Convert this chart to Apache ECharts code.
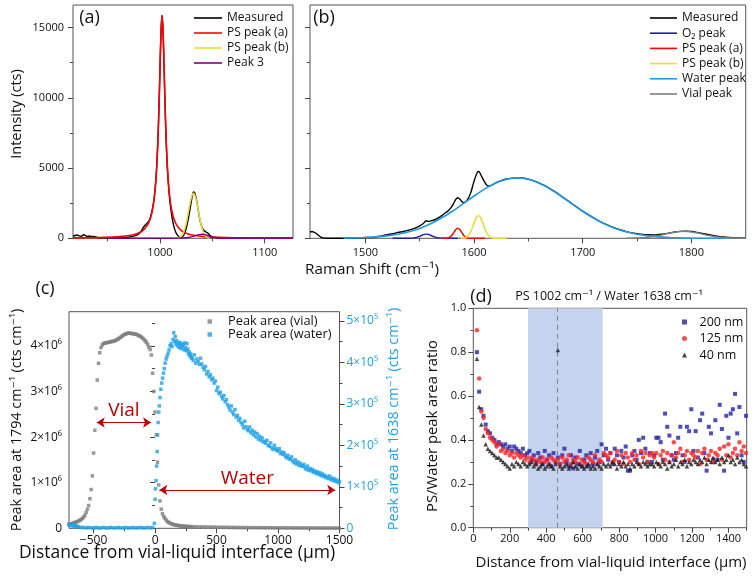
<!DOCTYPE html>
<html><head><meta charset="utf-8">
<script src="https://cdn.jsdelivr.net/npm/echarts@6/dist/echarts.min.js"></script>
<style>html,body{margin:0;padding:0;background:#fff}#c{width:756px;height:577px}</style>
</head><body><div id="c"></div>
<script>
// ---------- Panel (a): Raman spectrum 917–1127 cm-1 ----------
const aMeasured = [[917,150],[919,200],[921,230],[923,170],[925,140],[927,250],[929,200],[931,130],[933,160],[935,110],[937,140],[940,60],[945,40],[950,20],[955,30],[960,40],[965,45],[970,80],[975,150],[978,230],[981,400],[984,750],[986,950],[988,1100],[990,1300],[992,1800],[994,2600],[995,3200],[996,4050],[997,5250],[998,6900],[999,9150],[1000,11950],[1001,14650],[1002,15850],[1003,14650],[1004,11950],[1005,9100],[1006,6800],[1007,5100],[1008,3900],[1009,3000],[1010,2300],[1012,1300],[1014,650],[1016,300],[1018,130],[1020,60],[1022,150],[1024,450],[1026,1000],[1028,1750],[1029,2200],[1030,2650],[1031,3050],[1032,3300],[1033,3250],[1034,3050],[1035,2700],[1036,2250],[1037,1800],[1038,1350],[1040,800],[1042,550],[1044,450],[1046,350],[1048,200],[1050,100],[1054,40],[1060,20],[1070,10],[1080,10],[1090,5],[1100,5],[1110,0],[1127,0]];
const aPsPeakA = [[917,27],[932,40],[947,64],[962,120],[972,213],[977,305],[982,471],[985,645],[988,933],[990,1243],[992,1730],[994,2547],[995,3171],[996,4025],[997,5214],[998,6875],[999,9140],[1000,11953],[1001,14659],[1002,15855],[1003,14659],[1004,11953],[1005,9140],[1006,6875],[1007,5214],[1008,4025],[1009,3171],[1010,2547],[1012,1730],[1014,1243],[1016,933],[1019,645],[1022,471],[1027,305],[1032,213],[1042,120],[1057,64],[1072,40],[1087,27],[1127,12]];
const aPsPeakB = [[1017,20],[1020,120],[1022,330],[1024,747],[1026,1411],[1028,2225],[1030,2920],[1032,3200],[1034,2920],[1036,2225],[1038,1411],[1040,747],[1042,330],[1044,120],[1047,20]];
const aPeak3 = [[950,0],[1000,2],[1015,10],[1022,25],[1027,60],[1031,120],[1034,190],[1037,260],[1040,290],[1043,260],[1046,190],[1049,110],[1052,50],[1056,15],[1062,3],[1080,0],[1127,0]];

// ---------- Panel (b): Raman spectrum 1449–1850 cm-1 ----------
const bMeasured = [[1449,450],[1451,480],[1453,420],[1455,330],[1457,200],[1459,90],[1461,30],[1465,0],[1475,5],[1485,10],[1495,30],[1500,60],[1505,45],[1510,110],[1515,170],[1520,260],[1525,320],[1530,420],[1535,480],[1540,580],[1545,700],[1550,880],[1553,1030],[1556,1250],[1558,1200],[1561,1260],[1564,1320],[1567,1450],[1570,1600],[1573,1780],[1576,1950],[1579,2200],[1581,2450],[1583,2750],[1585,2880],[1587,2780],[1589,2600],[1591,2550],[1593,2650],[1595,2900],[1597,3250],[1599,3800],[1601,4300],[1603,4700],[1604,4760],[1605,4700],[1607,4400],[1609,4100],[1611,3850],[1613,3720],[1616,3760],[1620,3950],[1625,4100],[1630,4220],[1635,4270],[1640,4300],[1645,4290],[1650,4210],[1655,4080],[1660,3930],[1665,3740],[1670,3520],[1675,3280],[1680,3010],[1685,2740],[1690,2470],[1695,2200],[1700,1930],[1705,1680],[1710,1450],[1715,1230],[1720,1040],[1725,870],[1730,720],[1735,590],[1740,480],[1745,390],[1750,330],[1755,280],[1760,250],[1765,240],[1770,270],[1775,310],[1780,390],[1785,450],[1790,490],[1795,510],[1800,480],[1805,420],[1810,350],[1815,270],[1820,200],[1825,140],[1830,90],[1835,60],[1840,35],[1845,20],[1850,15]];
const bO2Peak = [[1525,0],[1540,2],[1543,10],[1546,41],[1548,83],[1550,146],[1552,218],[1554,277],[1556,300],[1558,277],[1560,218],[1562,146],[1564,83],[1566,41],[1569,10],[1572,2],[1585,0]];
const bPsPeakA = [[1570,0],[1575,12],[1577,52],[1579,163],[1581,370],[1583,603],[1585,710],[1587,603],[1589,370],[1591,163],[1593,52],[1595,12],[1600,0],[1610,0]];
const bPsPeakB = [[1588,0],[1592,47],[1594,138],[1596,334],[1598,666],[1600,1092],[1602,1467],[1604,1620],[1606,1467],[1608,1092],[1610,666],[1612,334],[1614,138],[1616,47],[1620,6],[1630,0]];
const bWaterPeak = [[1480,14],[1490,28],[1500,54],[1510,99],[1520,173],[1530,289],[1540,461],[1550,705],[1560,1031],[1570,1442],[1580,1926],[1590,2461],[1600,3009],[1610,3518],[1620,3933],[1630,4205],[1640,4300],[1650,4205],[1660,3933],[1670,3518],[1680,3009],[1690,2461],[1700,1926],[1710,1442],[1720,1031],[1730,705],[1740,461],[1750,289],[1760,173],[1770,99],[1780,54],[1790,28],[1800,14],[1820,3],[1850,0]];
const bVialPeak = [[1740,4],[1750,20],[1760,76],[1770,200],[1780,373],[1786,460],[1793,500],[1800,460],[1806,373],[1816,200],[1826,76],[1836,20],[1850,4]];

// ---------- Panel (c): peak areas vs distance (vial in 10^6, water in 10^5) ----------
const cVialArea = [[-700,0.09],[-690,0.10],[-680,0.10],[-670,0.11],[-660,0.12],[-650,0.13],[-640,0.14],[-630,0.15],[-620,0.16],[-610,0.18],[-600,0.20],[-590,0.22],[-580,0.25],[-570,0.29],[-560,0.35],[-550,0.42],[-540,0.50],[-530,0.65],[-520,0.85],[-510,1.15],[-500,1.65],[-490,2.15],[-480,2.63],[-470,3.25],[-460,3.62],[-450,3.85],[-440,3.96],[-430,4.02],[-420,4.05],[-410,4.06],[-400,4.07],[-390,4.07],[-380,4.08],[-370,4.08],[-360,4.09],[-350,4.10],[-340,4.10],[-330,4.11],[-320,4.12],[-310,4.14],[-300,4.15],[-290,4.17],[-280,4.19],[-270,4.21],[-260,4.23],[-250,4.25],[-240,4.26],[-230,4.27],[-220,4.28],[-210,4.28],[-200,4.28],[-190,4.27],[-180,4.27],[-170,4.26],[-160,4.26],[-150,4.25],[-140,4.24],[-130,4.22],[-120,4.21],[-110,4.19],[-100,4.17],[-90,4.14],[-80,4.11],[-70,4.08],[-60,4.03],[-50,3.97],[-40,3.92],[-30,3.80],[-20,3.40],[-10,3.00],[0,2.55],[10,2.05],[20,1.45],[30,0.95],[40,0.60],[50,0.42],[60,0.32],[70,0.26],[80,0.22],[90,0.18],[100,0.15],[110,0.13],[120,0.12],[130,0.10],[140,0.09],[150,0.08],[160,0.075],[170,0.07],[180,0.065],[190,0.06],[200,0.055],[210,0.052],[220,0.049],[230,0.046],[240,0.044],[250,0.042],[260,0.04],[270,0.039],[280,0.037],[290,0.036],[300,0.035],[320,0.033],[340,0.032],[360,0.030],[380,0.029],[400,0.028],[420,0.027],[440,0.026],[460,0.025],[480,0.024],[500,0.023],[520,0.022],[540,0.021],[560,0.021],[580,0.020],[600,0.019],[620,0.019],[640,0.018],[660,0.017],[680,0.017],[700,0.016],[720,0.016],[740,0.015],[760,0.015],[780,0.014],[800,0.014],[820,0.013],[840,0.013],[860,0.013],[880,0.012],[900,0.012],[920,0.012],[940,0.011],[960,0.011],[980,0.011],[1000,0.010],[1020,0.010],[1040,0.010],[1060,0.009],[1080,0.009],[1100,0.009],[1120,0.009],[1140,0.008],[1160,0.008],[1180,0.008],[1200,0.008],[1220,0.007],[1240,0.007],[1260,0.007],[1280,0.007],[1300,0.007],[1320,0.006],[1340,0.006],[1360,0.006],[1380,0.006],[1400,0.006],[1420,0.005],[1440,0.005],[1460,0.005],[1480,0.005],[1500,0.005]];
const cWaterArea = [[-700,0.08],[-690,0.10],[-680,0.06],[-670,0.09],[-660,0.05],[-650,0.07],[-640,0.04],[-630,0.05],[-620,0.03],[-600,0.02],[-580,0.02],[-560,0.01],[-540,0.02],[-520,0.01],[-500,0.01],[-480,0.02],[-460,0.01],[-440,0.01],[-420,0.02],[-400,0.01],[-380,0.01],[-360,0.02],[-340,0.01],[-320,0.01],[-300,0.02],[-280,0.01],[-260,0.01],[-240,0.02],[-220,0.01],[-200,0.01],[-180,0.02],[-160,0.01],[-140,0.01],[-120,0.02],[-100,0.01],[-80,0.01],[-60,0.02],[-40,0.01],[-20,0.02],[-6,0.12],
[0,0.70],[3,0.95],[8,1.15],[13,1.50],[17,1.85],[21,2.25],[25,2.55],[30,2.80],[35,2.95],[40,3.15],[47,3.35],[54,3.50],[61,3.62],[68,3.74],[75,3.85],[82,3.98],[90,4.08],[98,4.15],[106,4.22],[114,4.30],[122,4.40],[130,4.45],[138,4.38],[146,4.55],[152,4.71],[158,4.50],[164,4.62],[170,4.44],[176,4.52],[182,4.40],[188,4.47],[194,4.36],[200,4.48],[206,4.40],[212,4.33],[218,4.45],[224,4.38],[230,4.42],[236,4.30],[242,4.47],[248,4.35],[254,4.28],[260,4.45],[266,4.32],[272,4.20],[278,4.25],[284,4.15],[290,4.20],[296,4.10],
[300,4.12],[310,4.05],[320,4.18],[330,3.98],[340,4.08],[350,4.02],[360,3.95],[370,4.10],[380,3.96],[390,3.88],
[400,3.82],[410,3.90],[420,3.72],[430,3.78],[440,3.65],[450,3.70],[460,3.58],[470,3.62],[480,3.50],[490,3.55],
[500,3.32],[510,3.40],[520,3.25],[530,3.28],[540,3.18],[550,3.12],[560,3.20],[570,3.05],[580,3.10],[590,2.98],
[600,2.92],[610,2.85],[620,2.95],[630,2.80],[640,2.74],[650,2.86],[660,2.68],[670,2.72],[680,2.60],[690,2.65],
[700,2.55],[710,2.50],[720,2.42],[730,2.58],[740,2.45],[750,2.38],[760,2.35],[770,2.44],[780,2.30],[790,2.36],
[800,2.25],[810,2.32],[820,2.20],[830,2.28],[840,2.15],[850,2.22],[860,2.12],[870,2.18],[880,2.08],[890,2.10],
[900,2.05],[910,2.12],[920,2.00],[930,1.98],[940,2.06],[950,1.94],[960,1.90],[970,2.00],[980,1.92],[990,1.88],
[1000,1.86],[1010,1.92],[1020,1.80],[1030,1.84],[1040,1.78],[1050,1.82],[1060,1.74],[1070,1.70],[1080,1.76],[1090,1.68],
[1100,1.66],[1110,1.72],[1120,1.62],[1130,1.58],[1140,1.65],[1150,1.55],[1160,1.60],[1170,1.52],[1180,1.57],[1190,1.50],
[1200,1.50],[1210,1.54],[1220,1.46],[1230,1.42],[1240,1.50],[1250,1.40],[1260,1.44],[1270,1.38],[1280,1.42],[1290,1.35],
[1300,1.38],[1310,1.32],[1320,1.36],[1330,1.30],[1340,1.34],[1350,1.27],[1360,1.31],[1370,1.25],[1380,1.28],[1390,1.22],
[1400,1.24],[1410,1.20],[1420,1.26],[1430,1.17],[1440,1.21],[1450,1.15],[1460,1.19],[1470,1.13],[1480,1.16],[1490,1.10],[1500,1.12]];
const cVialArrow = [[-474,2.32],[-33,2.32]];
const cWaterArrow = [[35,0.84],[1465,0.84]];

// ---------- Panel (d): PS/Water peak area ratio ----------
const dDistance = [20,32,44,56,68,80,92,104,116,128,140,152,164,176,188,200,212,224,236,248,260,272,284,296,308,320,332,344,356,368,380,392,404,416,428,440,452,464,476,488,500,512,524,536,548,560,572,584,596,608,620,632,644,656,668,680,692,704,716,728,740,752,764,776,788,800,812,824,836,848,860,872,884,896,908,920,932,944,956,968,980,992,1004,1016,1028,1040,1052,1064,1076,1088,1100,1112,1124,1136,1148,1160,1172,1184,1196,1208,1220,1232,1244,1256,1268,1280,1292,1304,1316,1328,1340,1352,1364,1376,1388,1400,1412,1424,1436,1448,1460,1472,1484,1496];
const dRatio200 = [0.80,0.62,0.54,0.51,0.47,0.44,0.43,0.41,0.40,0.38, 0.39,0.38,0.37,0.38,0.36,0.37,0.35,0.37,0.36,0.35, 0.34,0.36,0.33,0.34,0.35,0.31,0.33,0.30,0.34,0.32, 0.29,0.35,0.31,0.33,0.28,0.34,0.30,0.32,0.29,0.33, 0.36,0.30,0.28,0.33,0.27,0.32,0.29,0.35,0.28,0.31, 0.33,0.28,0.34,0.29,0.32,0.35,0.30,0.38,0.33,0.36, 0.31,0.34,0.29,0.36,0.33,0.30,0.35,0.32,0.37,0.26, 0.26,0.33,0.35,0.31,0.40,0.34,0.41,0.36,0.30,0.34, 0.30,0.33,0.41,0.41,0.39,0.31,0.52,0.46,0.42,0.33, 0.31,0.34,0.41,0.46,0.33,0.30,0.46,0.44,0.54,0.35, 0.44,0.32,0.49,0.52,0.34,0.26,0.46,0.43,0.31,0.49, 0.31,0.56,0.45,0.26,0.51,0.41,0.52,0.54,0.61,0.43, 0.55,0.33,0.30,0.51];
const dRatio125 = [0.90,0.68,0.53,0.50,0.45,0.43,0.41,0.40,0.39,0.37, 0.38,0.35,0.36,0.34,0.35,0.33,0.34,0.32,0.34,0.33, 0.32,0.33,0.31,0.32,0.30,0.32,0.31,0.29,0.31,0.30, 0.32,0.30,0.31,0.29,0.32,0.31,0.30,0.31,0.29,0.32, 0.30,0.31,0.33,0.29,0.31,0.30,0.32,0.29,0.31,0.30, 0.29,0.32,0.31,0.30,0.33,0.29,0.31,0.30,0.34,0.33, 0.32,0.34,0.30,0.31,0.35,0.30,0.33,0.29,0.34,0.32, 0.30,0.34,0.31,0.33,0.29,0.35,0.32,0.34,0.30,0.33, 0.34,0.32,0.34,0.29,0.33,0.35,0.31,0.34,0.30,0.33, 0.39,0.32,0.34,0.36,0.30,0.33,0.35,0.31,0.34,0.33, 0.32,0.35,0.29,0.34,0.36,0.31,0.33,0.35,0.30,0.34, 0.33,0.36,0.31,0.37,0.33,0.38,0.32,0.34,0.36,0.33, 0.39,0.35,0.37,0.34];
const dRatio40 = [0.77,0.55,0.47,0.42,0.38,0.36,0.35,0.34,0.33,0.32, 0.32,0.31,0.30,0.29,0.28,0.27,0.29,0.28,0.30,0.29, 0.28,0.30,0.29,0.28,0.29,0.30,0.28,0.29,0.27,0.28, 0.29,0.27,0.28,0.29,0.28,0.27,0.29,0.81,0.28,0.27, 0.28,0.29,0.27,0.28,0.30,0.28,0.27,0.29,0.28,0.27, 0.28,0.29,0.27,0.28,0.27,0.29,0.28,0.27,0.29,0.28, 0.29,0.28,0.30,0.29,0.27,0.29,0.28,0.30,0.28,0.29, 0.27,0.29,0.28,0.30,0.29,0.28,0.30,0.29,0.28,0.29, 0.29,0.28,0.30,0.29,0.28,0.30,0.29,0.27,0.30,0.28, 0.29,0.31,0.28,0.30,0.29,0.31,0.28,0.30,0.29,0.31, 0.30,0.29,0.31,0.30,0.32,0.29,0.31,0.30,0.32,0.30, 0.31,0.29,0.32,0.30,0.31,0.33,0.30,0.31,0.29,0.32, 0.30,0.31,0.29,0.28];
const dShadeRange = [300, 710];
const dDashedAt = 460;

// ---------- Tick values ----------
const aXTicks = [1000, 1100], aXMinor = [950, 1050];
const abYTicks = [0, 5000, 10000, 15000], abYMinor = [2500, 7500, 12500];
const bXTicks = [1500, 1600, 1700, 1800], bXMinor = [1550, 1650, 1750];
const cXTicks = [-500, 0, 500, 1000, 1500], cXMinor = [-250, 250, 750, 1250];
const cLeftTicks = [0, 1, 2, 3, 4], cLeftMinor = [0.5, 1.5, 2.5, 3.5, 4.5];
const cRightTicks = [0, 1, 2, 3, 4, 5], cRightMinor = [0.5, 1.5, 2.5, 3.5, 4.5];
const dXTicks = [0, 200, 400, 600, 800, 1000, 1200, 1400], dXMinor = [100, 300, 500, 700, 900, 1100, 1300, 1500];
const dYTicks = [0, 0.2, 0.4, 0.6, 0.8, 1.0], dYMinor = [0.1, 0.3, 0.5, 0.7, 0.9];

// ---------- Rendering ----------
const FONT = "'Open Sans', 'DejaVu Sans', sans-serif";
const AX = '#444';
const BLUE = '#1DA1E8';
const dPairs = vals => dDistance.map((x, i) => [x, vals[i]]);

function axis(o) {
  return {
    type: 'value', gridIndex: o.grid, min: o.min, max: o.max, position: o.pos,
    axisLine: { show: false }, splitLine: { show: false },
    axisTick: { show: true, customValues: o.ticks, length: o.len || 5, lineStyle: { color: AX, width: 1 } },
    axisLabel: o.labels ? { show: true, customValues: o.ticks, margin: o.margin, fontSize: o.fs || 11,
      color: o.color || '#111', fontFamily: FONT, formatter: o.fmt || (v => String(v)) } : { show: false }
  };
}
const minus = v => v < 0 ? '\u2212' + Math.abs(v) : String(v);

const xAxis = [
  axis({grid:0, min:917, max:1127, pos:'bottom', ticks:aXTicks, labels:true, margin:9}),
  axis({grid:0, min:917, max:1127, pos:'bottom', ticks:aXMinor, len:3}),
  axis({grid:1, min:1449, max:1850, pos:'bottom', ticks:bXTicks, labels:true, margin:9}),
  axis({grid:1, min:1449, max:1850, pos:'bottom', ticks:bXMinor, len:3}),
  axis({grid:2, min:-700, max:1500, pos:'bottom', ticks:cXTicks, labels:true, margin:6, fs:12, fmt:minus}),
  axis({grid:2, min:-700, max:1500, pos:'bottom', ticks:cXMinor, len:3}),
  axis({grid:3, min:0, max:1500, pos:'bottom', ticks:dXTicks, labels:true, margin:6}),
  axis({grid:3, min:0, max:1500, pos:'bottom', ticks:dXMinor, len:3})
];
const yAxis = [
  axis({grid:0, min:0, max:16600, pos:'left', ticks:abYTicks, labels:true, margin:9}),
  axis({grid:0, min:0, max:16600, pos:'left', ticks:abYMinor, len:3}),
  axis({grid:1, min:0, max:16600, pos:'left', ticks:abYTicks}),
  axis({grid:1, min:0, max:16600, pos:'left', ticks:abYMinor, len:3}),
  axis({grid:2, min:0, max:4.75, pos:'left', ticks:cLeftTicks, labels:true, margin:7, fs:12, fmt: v => v === 0 ? '0' : v + '×10⁶'}),
  axis({grid:2, min:0, max:4.75, pos:'left', ticks:cLeftMinor, len:3}),
  axis({grid:2, min:0, max:5.22, pos:'right', ticks:cRightTicks, labels:true, margin:7, fs:12, color:BLUE, fmt: v => v === 0 ? '0' : v + '×10⁵'}),
  axis({grid:2, min:0, max:5.22, pos:'right', ticks:cRightMinor, len:3}),
  axis({grid:3, min:0, max:1, pos:'left', ticks:dYTicks, labels:true, margin:7, fmt: v => v.toFixed(1)}),
  axis({grid:3, min:0, max:1, pos:'left', ticks:dYMinor, len:3})
];

function line(name, data, color, xi, yi, w, z) {
  return { name, type:'line', data, xAxisIndex:xi, yAxisIndex:yi, symbol:'none', smooth:0.25,
    lineStyle:{ color, width: w || 1.4 }, itemStyle:{ color }, z: z || 2, silent:true };
}
function scat(name, data, color, symbol, size, xi, yi, z) {
  return { name, type:'scatter', data, xAxisIndex:xi, yAxisIndex:yi, symbol, symbolSize:size,
    itemStyle:{ color }, z: z || 3, silent:true };
}

const series = [
  line('Measured', aMeasured, '#000000', 0, 0, 1.4),
  line('PS peak (a)', aPsPeakA, '#FF0000', 0, 0, 1.6),
  line('PS peak (b)', aPsPeakB, '#E8DC3A', 0, 0, 1.6),
  line('Peak 3', aPeak3, '#800080', 0, 0, 1.4),
  line('Measured', bMeasured, '#000000', 2, 2, 1.4),
  line('O₂ peak', bO2Peak, '#1F1FA0', 2, 2, 1.4),
  line('PS peak (a)', bPsPeakA, '#FF0000', 2, 2, 1.4),
  line('PS peak (b)', bPsPeakB, '#E8DC3A', 2, 2, 1.6),
  line('Water peak', bWaterPeak, '#1E9BE6', 2, 2, 1.6),
  line('Vial peak', bVialPeak, '#7F7F7F', 2, 2, 1.4),
  Object.assign(scat('Peak area (vial)', cVialArea, '#7F7F7F', 'rect', 3.5, 4, 4), {
    markLine: { silent:true, symbol:['arrow','arrow'], symbolSize:8, animation:false,
      lineStyle:{ color:'#C00000', width:1, type:'solid' },
      label:{ show:true, position:'insideMiddleTop', distance:2, formatter: p => p.name, color:'#C00000', fontSize:19, fontFamily:FONT },
      data:[ [{name:'Vial', coord:cVialArrow[0]}, {coord:cVialArrow[1]}],
             [{name:'Water', coord:cWaterArrow[0]}, {coord:cWaterArrow[1]}] ] }
  }),
  scat('Peak area (water)', cWaterArea, BLUE, 'rect', 3.5, 4, 6),
  { type:'line', data:[], xAxisIndex:6, yAxisIndex:8, z:1, silent:true,
    markArea:{ silent:true, itemStyle:{ color:'#C6D3EE' }, data:[[{xAxis:dShadeRange[0]},{xAxis:dShadeRange[1]}]] },
    markLine:{ silent:true, symbol:'none', label:{show:false}, lineStyle:{ color:'#808080', type:[5,4], width:1 }, data:[{xAxis:dDashedAt}] } },
  scat('200 nm', dPairs(dRatio200), '#2222A8', 'rect', 4, 6, 8, 3),
  scat('125 nm', dPairs(dRatio125), '#FF2020', 'circle', 4.5, 6, 8, 4),
  scat('40 nm', dPairs(dRatio40), '#1A1A1A', 'triangle', 4.5, 6, 8, 5)
];

const legendText = (fs, pad) => ({ fontSize: fs, fontFamily: FONT, color: '#111', padding: [0, 0, 0, pad || 0] });
const legend = [
  { left:189, top:7, orient:'vertical', icon:'rect', itemWidth:28, itemHeight:1.6, itemGap:3, selectedMode:false,
    textStyle: legendText(12), data:['Measured','PS peak (a)','PS peak (b)','Peak 3'] },
  { left:645, top:7, orient:'vertical', icon:'rect', itemWidth:27, itemHeight:1.6, itemGap:3.2, selectedMode:false,
    textStyle: legendText(12), data:['Measured','O₂ peak','PS peak (a)','PS peak (b)','Water peak','Vial peak'] },
  { left:202.5, top:310, orient:'vertical', itemWidth:4.5, itemHeight:4.5, itemGap:0, selectedMode:false,
    textStyle: legendText(12.8, 11), data:[{name:'Peak area (vial)', icon:'rect'},{name:'Peak area (water)', icon:'rect'}] },
  { left:677, top:310.5, orient:'vertical', itemWidth:5, itemHeight:5, itemGap:3.5, selectedMode:false,
    textStyle: legendText(12.5, 7.5), data:[{name:'200 nm', icon:'rect'},{name:'125 nm', icon:'circle'},{name:'40 nm', icon:'triangle'}] }
];

function txt(text, x, y, fs, opts) {
  opts = opts || {};
  return { type:'text', x, y, rotation: opts.rot || 0, silent:true,
    style:{ text, fontSize:fs, fontFamily:FONT, fill: opts.color || '#111', align:'center', verticalAlign:'middle' } };
}
const graphic = [
  txt('(a)', 89.5, 18, 18), txt('(b)', 324, 18, 18), txt('(c)', 45, 289, 18), txt('(d)', 481, 296.5, 18),
  txt('Intensity (cts)', 16.5, 114, 14.5, {rot:Math.PI/2}),
  txt('Raman Shift (cm⁻¹)', 372, 270, 15.3),
  txt('Peak area at 1794 cm⁻¹ (cts cm⁻¹)', 16.5, 420, 14.3, {rot:Math.PI/2}),
  txt('Peak area at 1638 cm⁻¹ (cts cm⁻¹)', 394, 419, 14.3, {rot:Math.PI/2, color:BLUE}),
  txt('Distance from vial-liquid interface (μm)', 177, 553, 17.5),
  txt('Distance from vial-liquid interface (μm)', 611, 562.5, 15),
  txt('PS/Water peak area ratio', 433, 426, 14.8, {rot:Math.PI/2}),
  txt('PS 1002 cm⁻¹ / Water 1638 cm⁻¹', 609, 296.7, 12.5)
];

const gridStyle = { show:true, borderColor:'#555', borderWidth:1, backgroundColor:'transparent', containLabel:false };
const option = {
  animation:false,
  textStyle:{ fontFamily: FONT },
  grid:[
    Object.assign({left:73, top:5, width:220, height:233.3}, gridStyle),
    Object.assign({left:310, top:5, width:435.7, height:233.3}, gridStyle),
    Object.assign({left:69, top:311.7, width:270.5, height:216.6}, gridStyle),
    Object.assign({left:473.3, top:308.3, width:273.4, height:219.4}, gridStyle)
  ],
  xAxis, yAxis, series, legend, graphic
};
const chart = echarts.init(document.getElementById('c'), null, { renderer:'canvas' });
chart.setOption(option);
</script></body></html>
